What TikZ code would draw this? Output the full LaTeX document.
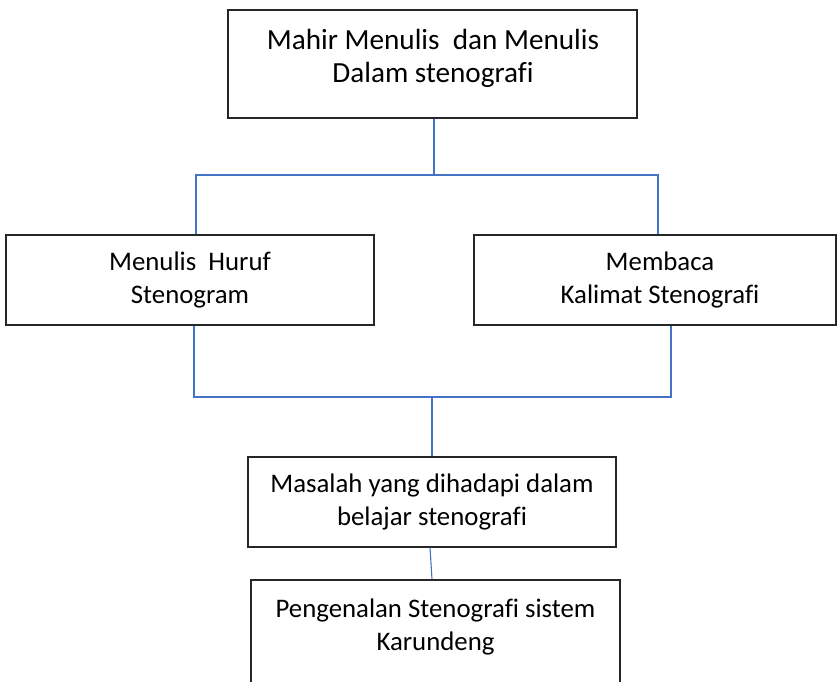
\documentclass[tikz,border=0pt]{standalone}
\usepackage{fontspec}
\setmainfont[Ligatures=NoCommon]{Carlito}
\definecolor{lnblue}{HTML}{4472C4}
\begin{document}
\begin{tikzpicture}
[
	x=1pt,y=-1pt,
	bx/.style={rectangle,draw=black!85,line width=1.2,inner sep=0},
	tx/.style={align=center,font=\fontsize{26.8}{33}\selectfont,inner sep=0},
	ln/.style={draw=lnblue,line width=1.1}
]
\useasboundingbox (0,0) rectangle (837,681);
\clip (0,0) rectangle (837,681);

\node[bx,minimum width=409,minimum height=108] (b1) at (432.5,64) {};
\node[tx,font=\fontsize{29.2}{33}\selectfont] (t1) at (433,58) {Mahir Menulis\ \ dan Menulis\\Dalam stenografi};

\node[bx,minimum width=368,minimum height=90] (b2) at (190,280) {};
\node[tx] (t2) at (190,280) {Menulis\ \ Huruf\\Stenogram};

\node[bx,minimum width=362,minimum height=90] (b3) at (655,280) {};
\node[tx] (t3) at (660,280) {Membaca\\Kalimat Stenografi};

\node[bx,minimum width=368,minimum height=90] (b4) at (432,502) {};
\node[tx] (t4) at (432,502) {Masalah yang dihadapi dalam\\belajar stenografi};

\node[bx,minimum width=369,minimum height=130] (b5) at (435.5,645) {};
\node[tx] (t5) at (435.5,627) {Pengenalan Stenografi sistem\\Karundeng};

\coordinate (j1) at (434,175);
\coordinate (j2) at (432,397);

\draw[ln] ([xshift=1.5]b1.south) -- (j1);
\draw[ln] ([xshift=6]b2.north) |- (j1) -| ([xshift=3]b3.north);
\draw[ln] ([xshift=4]b2.south) |- (j2) -| ([xshift=16]b3.south);
\draw[ln] (j2) -- (b4.north);
\draw[ln] ([xshift=-2]b4.south) -- ([xshift=-3.5]b5.north);

\end{tikzpicture}
\end{document}
